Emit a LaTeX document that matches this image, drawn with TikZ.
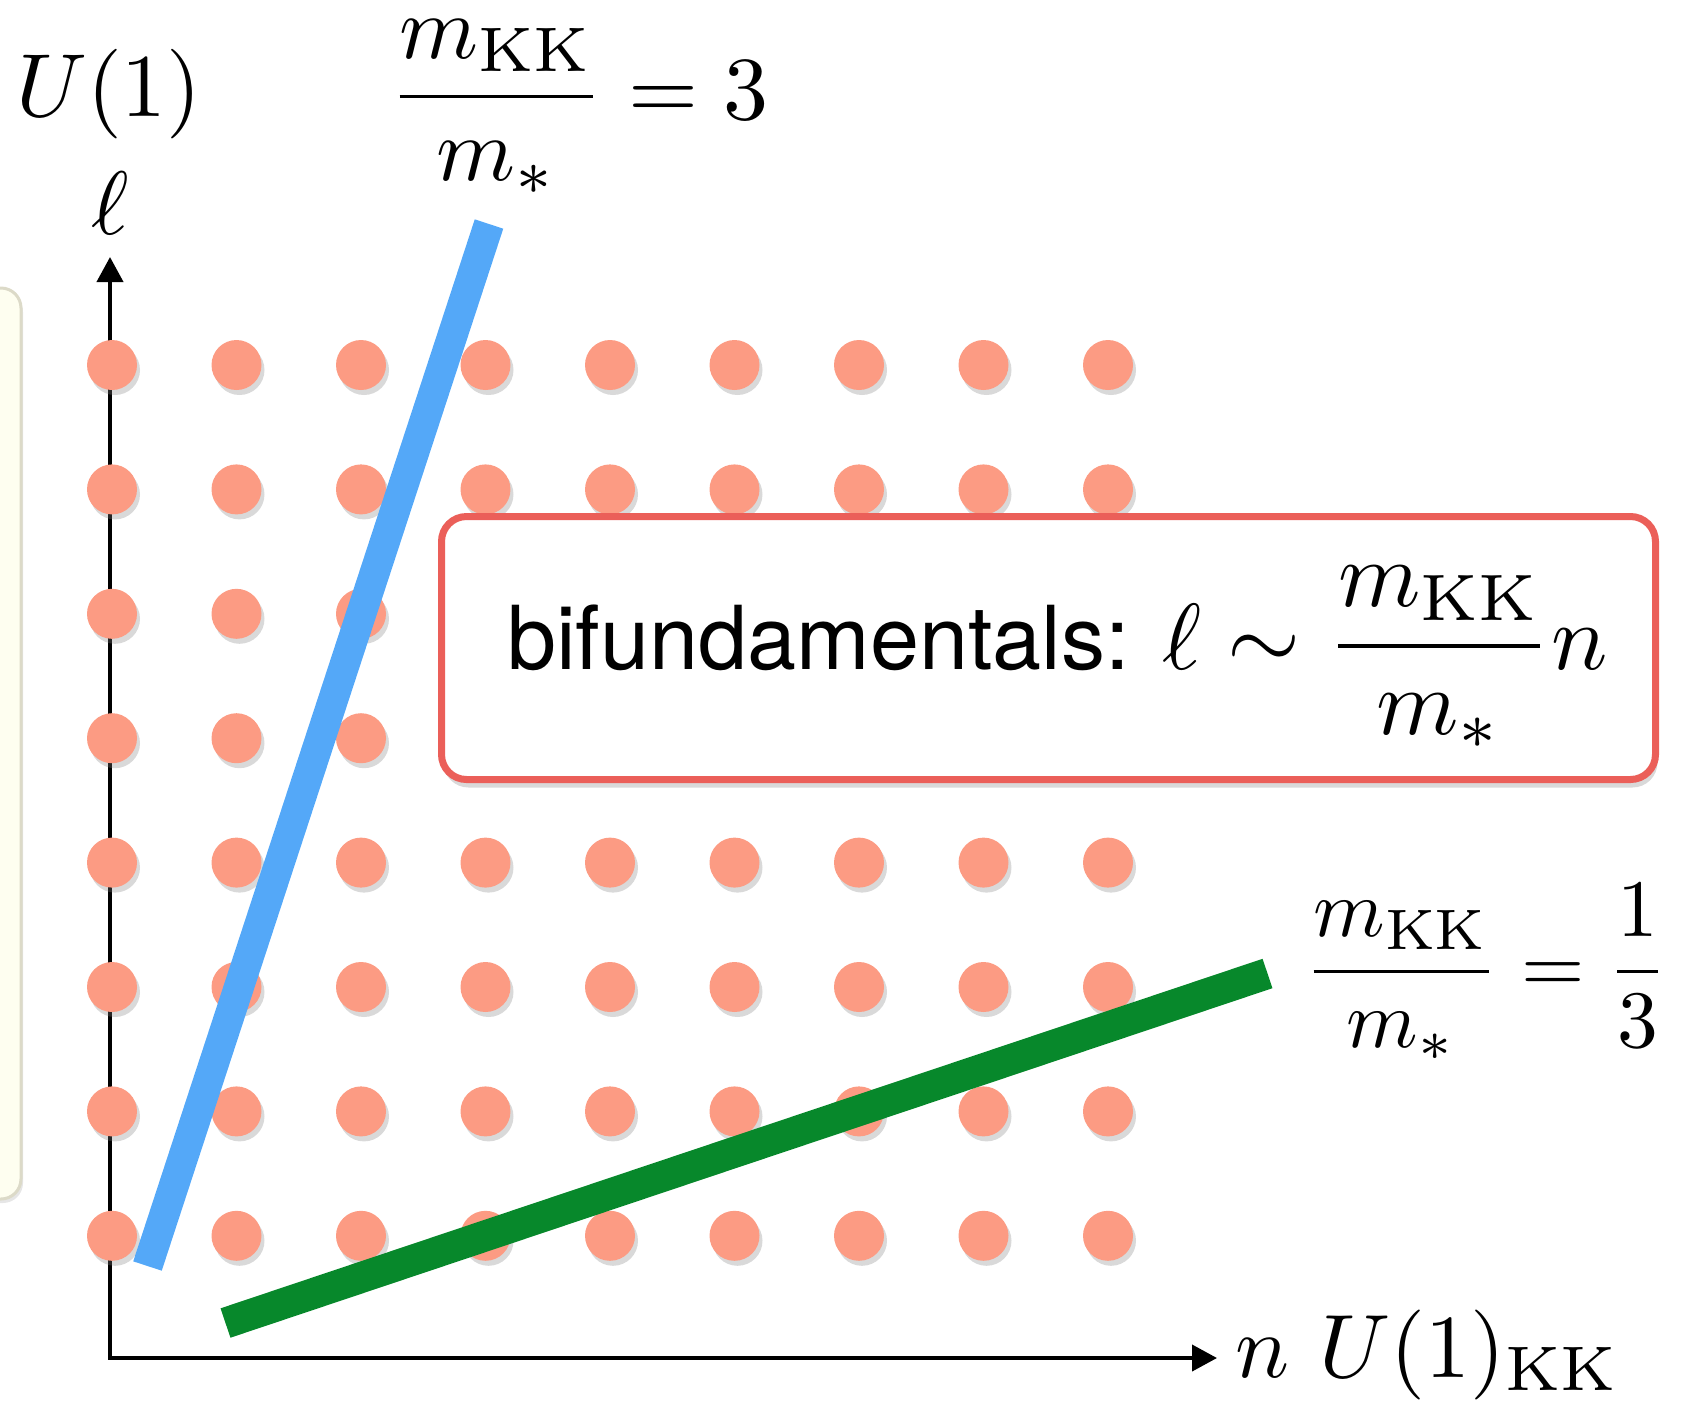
\documentclass[tikz,border=0pt]{standalone}
\usepackage{amsmath}
\usepackage{graphicx}
\usepackage{fontspec}
\newfontfamily\boxfont{TeX Gyre Heros}
\usepackage{tikz}
\usetikzlibrary{positioning,arrows.meta,shadows}
\definecolor{LatDot}{HTML}{FC9B83}
\definecolor{LatRed}{HTML}{EB5F59}
\definecolor{LatBlue}{HTML}{54A8F8}
\definecolor{LatGreen}{HTML}{07882B}
\definecolor{LatIvory}{HTML}{FEFEF0}
\definecolor{LatEdge}{HTML}{DCDAC8}

\begin{document}
\begin{tikzpicture}[
  x=0.1mm, y=-0.1mm,
  ptdot/.style={circle, fill=LatDot, minimum size=5mm, inner sep=0pt, drop shadow={shadow xshift=0.3mm, shadow yshift=-0.5mm, opacity=0.3}},
  axisline/.style={line width=0.4mm, black},
  slopeblue/.style={line width=3mm, LatBlue},
  slopegreen/.style={line width=3.1mm, LatGreen},
  sidepanel/.style={fill=LatIvory, draw=LatEdge, line width=0.3mm, rounded corners=2mm, drop shadow={shadow xshift=0.2mm, shadow yshift=-0.4mm, opacity=0.2}},
  ratiobox/.style={draw=LatRed, fill=white, line width=0.7mm, rounded corners=2.5mm, minimum width=121.4mm, minimum height=26.3mm, inner sep=0pt, drop shadow={shadow xshift=0.2mm, shadow yshift=-0.8mm, opacity=0.3}},
  mathlabel/.style={inner sep=0pt}
]
\useasboundingbox (0,0) rectangle (1684,1401);
\begin{scope}
  \clip (0,0) rectangle (1684,1401);
  \draw[sidepanel] (-60,288) rectangle (21,1199);
\end{scope}
\coordinate (origin) at (110,1358);
\coordinate (ytip) at (110,257);
\coordinate (xtip) at (1217,1358);
\draw[axisline, {Triangle[length=2.5mm,width=2.6mm]}-{Triangle[length=2.5mm,width=2.6mm]}] (ytip) -- (origin) -- (xtip);
% lattice of charges
\foreach \i in {0,...,8}
  \foreach \j in {0,...,7}
    \node[ptdot] (dot-\i-\j) at ({112+124.5*\i},{365+124.4*\j}) {};
\coordinate (blueA) at (147.5,1266);
\coordinate (blueB) at (489,224);
\coordinate (greenA) at (225.5,1323);
\coordinate (greenB) at (1267.5,973.5);
\draw[slopeblue] (blueA) -- (blueB);
\draw[slopegreen] (greenA) -- (greenB);
\node[ratiobox] (bifund) at (1048.5,648) {\hspace*{1.8mm}\rule{0pt}{34.7pt}\boxfont\fontsize{25.1}{30}\selectfont bifundamentals: \scalebox{2.67}{\normalsize$\ell\sim\dfrac{m_{\mathrm{KK}}}{m_*}n$}};
% labels
\node[mathlabel, anchor=base] (ulabel) at (109,116) {\scalebox{2.55}{$U(1)$}};
\node[mathlabel, anchor=base] (ellabel) at (110,234) {\scalebox{2.56}{$\ell$}};
\node[mathlabel, anchor=base west] (slopetop) at (388,119) {\scalebox{2.56}{$\dfrac{m_{\mathrm{KK}}}{m_*}=3$}};
\node[mathlabel, anchor=base west] (sloperight) at (1303,992) {\scalebox{2.32}{$\dfrac{m_{\mathrm{KK}}}{m_*}=\dfrac{1}{3}$}};
\node[mathlabel, anchor=base west] (nlabel) at (1235,1377) {\scalebox{2.56}{$n\ U(1)_{\mathrm{KK}}$}};
\end{tikzpicture}
\end{document}
